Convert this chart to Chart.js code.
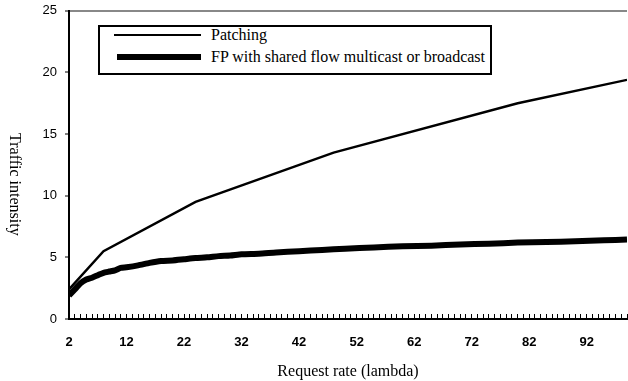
<!DOCTYPE html>
<html>
<head>
<meta charset="utf-8">
<script src="https://cdn.jsdelivr.net/npm/chart.js@4.4.0/dist/chart.umd.min.js"></script>
<style>
  html, body { margin: 0; padding: 0; background: #fff; overflow: hidden; }
  #wrap { position: relative; width: 628px; height: 381px; overflow: hidden; }
  #chart { position: absolute; left: 0; top: -5px; }
  #ytitle {
    position: absolute; left: 6px; top: 133px;
    writing-mode: vertical-rl;
    font: 16px/18px "Liberation Serif", serif; color: #000;
  }
  #legend {
    position: absolute; left: 98px; top: 25px; width: 390px; height: 46px;
    border: 2px solid #000; background: #fff;
    font: 16px/18px "Liberation Serif", serif; color: #000;
  }
  .sample { position: absolute; background: #000; }
  .lbl { position: absolute; left: 111px; white-space: nowrap; }
</style>
</head>
<body>
<div id="wrap">
  <canvas id="chart" width="628" height="386"></canvas>
  <div id="ytitle">Traffic intensity</div>
  <div id="legend">
    <div class="sample" style="left:14px; top:7px; width:87px; height:2px;"></div>
    <div class="lbl" style="top:-1px;">Patching</div>
    <div class="sample" style="left:17px; top:27px; width:84px; height:6px;"></div>
    <div class="lbl" style="top:21px;">FP with shared flow multicast or broadcast</div>
  </div>
</div>
<script>
// ── DATA ─────────────────────────────────────────────

var patchX = [2, 8, 24, 48, 80, 99];
var patchY = [2.4, 5.5, 9.5, 13.5, 17.5, 19.4];

var fpX = [2, 3, 4, 5, 6, 7, 8, 9, 10, 11, 12, 14, 16, 18, 20, 22, 24, 26, 28, 30,
           32, 35, 38, 42, 46, 50, 55, 60, 65, 70, 75, 80, 85, 90, 95, 99];
var fpY = [1.9, 2.4, 2.9, 3.2, 3.35, 3.55, 3.75, 3.85, 3.95, 4.15, 4.2, 4.35, 4.55, 4.7, 4.75, 4.85, 4.95, 5.0, 5.1, 5.15,
           5.25, 5.3, 5.4, 5.5, 5.6, 5.7, 5.8, 5.9, 5.95, 6.05, 6.1, 6.2, 6.25, 6.3, 6.38, 6.45];

var xMin = 2, xMax = 99, xLabelStep = 10;
var yTicks = [0, 5, 10, 15, 20, 25];

function pairs(xs, ys) {
    var out = [];
    for (var i = 0; i < xs.length; i++) out.push({ x: xs[i], y: ys[i] });
    return out;
}

// ── CHART ────────────────────────────────────────────

var ctx = document.getElementById('chart').getContext('2d');

new Chart(ctx, {
    type: 'line',
    data: {
        datasets: [
            {
                label: 'Patching',
                data: pairs(patchX, patchY),
                borderColor: '#000',
                borderWidth: 2.4,
                pointRadius: 0,
                tension: 0,
                fill: false
            },
            {
                label: 'FP with shared flow multicast or broadcast',
                data: pairs(fpX, fpY),
                borderColor: '#000',
                borderWidth: 6,
                pointRadius: 0,
                tension: 0.2,
                fill: false
            }
        ]
    },
    options: {
        responsive: false,
        animation: false,
        layout: { padding: { top: 4, right: 1, left: 0, bottom: 0 } },
        plugins: {
            legend: { display: false },
            tooltip: { enabled: false }
        },
        scales: {
            x: {
                type: 'linear',
                min: xMin,
                max: xMax,
                // one tick per unit, labels only every 10
                afterBuildTicks: function(scale) {
                    var t = [];
                    for (var v = xMin; v <= xMax; v++) t.push({ value: v });
                    scale.ticks = t;
                },
                afterFit: function(scale) {
                    scale.height = 62;
                    scale.paddingLeft = 0;
                    scale.paddingRight = 0;
                },
                ticks: {
                    autoSkip: false,
                    maxRotation: 0,
                    padding: 21,
                    color: '#000',
                    font: { family: 'Liberation Sans', size: 13, weight: 'bold' },
                    callback: function(v) { return (v - xMin) % xLabelStep === 0 ? String(v) : ''; }
                },
                // negative tick length turns the marks inward
                grid: {
                    drawOnChartArea: false,
                    drawTicks: true,
                    tickLength: -5,
                    tickColor: '#000',
                    tickWidth: 1
                },
                border: { color: '#000', width: 2 },
                title: {
                    display: true,
                    text: 'Request rate (lambda)',
                    color: '#000',
                    font: { family: 'Liberation Serif', size: 16 },
                    padding: { top: 1, bottom: 0 }
                }
            },
            y: {
                min: 0,
                max: 25,
                afterBuildTicks: function(scale) {
                    scale.ticks = yTicks.map(function(v) { return { value: v }; });
                },
                afterFit: function(scale) { scale.width = 69; },
                ticks: {
                    padding: 8,
                    color: '#000',
                    font: { family: 'Liberation Sans', size: 13 }
                },
                grid: {
                    color: function(c) { return c.tick && c.tick.value === 25 ? '#888' : 'rgba(0,0,0,0)'; },
                    lineWidth: 2,
                    tickColor: '#000',
                    tickLength: 4,
                    tickWidth: 1
                },
                border: { color: '#000', width: 2 }
            }
        }
    }
});
</script>
</body>
</html>
